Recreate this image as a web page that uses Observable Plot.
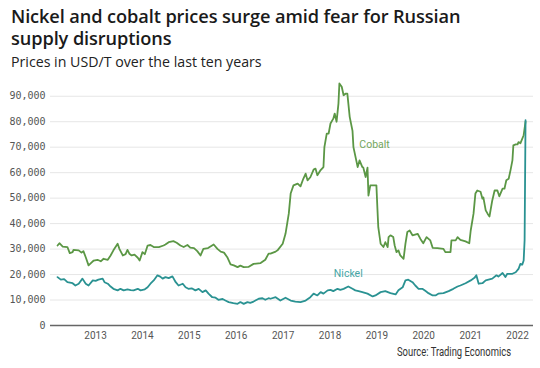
<!DOCTYPE html>
<html>
<head>
<meta charset="utf-8">
<script src="https://cdn.jsdelivr.net/npm/d3@7"></script>
<script src="https://cdn.jsdelivr.net/npm/@observablehq/plot@0.6"></script>
<style>
  html, body { margin: 0; padding: 0; background: #fff; }
  body { width: 540px; height: 368px; position: relative; overflow: hidden; font-family: "Open Sans", "Noto Sans", sans-serif; }
  #title { position: absolute; left: 11px; top: 5px; width: 525px; font-size: 18.2px; font-weight: 600; line-height: 22px; color: #1a1a1a; letter-spacing: -0.1px; white-space: nowrap; }
  #subtitle { position: absolute; left: 11px; top: 52px; font-size: 14.2px; font-weight: 400; color: #222; }
  #chart { position: absolute; left: 0; top: 75px; }
  #source { position: absolute; left: 397px; top: 345px; font-family: Roboto, sans-serif; font-size: 12px; color: #333; white-space: nowrap; transform-origin: 0 50%; display: inline-block; }
</style>
</head>
<body>
<div id="title">Nickel and cobalt prices surge amid fear for Russian<br>supply disruptions</div>
<div id="subtitle">Prices in USD/T over the last ten years</div>
<div id="chart"></div>
<div id="source">Source: Trading Economics</div>
<script>
// Dates as decimal years, prices in USD/T
const cobaltYears = [2012.19,2012.23,2012.30,2012.40,2012.45,2012.51,2012.53,2012.64,2012.70,2012.74,2012.79,2012.85,2012.90,2012.96,
  2013.04,2013.11,2013.17,2013.26,2013.32,2013.38,2013.47,2013.51,2013.58,2013.64,2013.68,2013.72,2013.77,2013.83,2013.90,2013.94,
  2014.00,2014.05,2014.11,2014.17,2014.24,2014.35,2014.45,2014.49,2014.56,2014.66,2014.73,2014.81,2014.88,2014.96,
  2015.02,2015.10,2015.17,2015.24,2015.30,2015.40,2015.52,2015.60,2015.67,2015.74,2015.81,2015.88,2015.95,
  2016.03,2016.09,2016.16,2016.26,2016.37,2016.52,2016.62,2016.69,2016.73,2016.84,2016.88,2016.99,
  2017.05,2017.12,2017.16,2017.22,2017.31,2017.37,2017.43,2017.48,2017.52,2017.58,2017.65,2017.69,2017.73,2017.80,2017.86,2017.88,2017.93,2017.97,
  2018.01,2018.07,2018.10,2018.14,2018.18,2018.20,2018.25,2018.29,2018.33,2018.37,2018.42,2018.48,2018.50,2018.56,2018.59,2018.63,2018.69,2018.71,2018.76,2018.80,2018.82,2018.86,2018.99,
  2019.01,2019.03,2019.08,2019.14,2019.18,2019.23,2019.25,2019.29,2019.35,2019.38,2019.42,2019.46,2019.50,2019.57,2019.61,2019.65,2019.70,2019.76,2019.87,2019.93,2019.99,
  2020.06,2020.14,2020.19,2020.29,2020.42,2020.46,2020.57,2020.59,2020.68,2020.72,2020.78,2020.89,2020.97,
  2021.00,2021.06,2021.10,2021.14,2021.21,2021.25,2021.27,2021.32,2021.36,2021.40,2021.46,2021.51,2021.57,2021.61,2021.68,2021.72,2021.76,2021.81,2021.85,2021.89,2021.91,2021.96,
  2022.00,2022.02,2022.06,2022.13,2022.17];
const cobaltPrices = [31400,32300,31000,30800,28400,28800,29700,29500,28600,29200,26800,23600,24500,25500,
  25800,25200,26200,25800,27500,29500,32100,30000,27500,28000,29700,28200,27500,27800,26600,25500,
  28800,28000,31400,31600,30800,30800,31400,31800,32700,33100,32500,31400,30800,31600,
  30600,30400,29200,27500,30100,30400,31800,30100,29000,28600,26800,24000,23600,
  22900,23500,22900,23000,24200,24500,25800,28200,28200,29000,29500,32100,
  36000,43900,51800,55000,55700,54600,57600,59600,57000,58200,61200,61600,59000,61000,62200,70000,75300,75300,
  79300,81200,83200,80000,87100,95000,93700,90400,91000,91000,81900,76400,70000,64800,62200,64800,62200,62000,58300,62000,51000,55000,55000,
  46500,38600,32100,30800,32700,30800,34700,35400,34700,31400,28800,29500,27500,26200,32100,36700,37300,35400,36000,34000,32300,
  34700,33400,30500,30400,30100,28800,28800,33400,33400,34700,33600,33000,32300,
  37300,43900,51800,53000,52500,49800,50300,45200,43900,42800,49100,53000,53000,50700,53700,53700,57000,57600,61000,64800,70700,71100,
  71100,72000,71500,74700,80000];

const nickelYears = [2012.19,2012.26,2012.33,2012.40,2012.51,2012.57,2012.64,2012.72,2012.79,2012.85,2012.94,
  2013.00,2013.06,2013.15,2013.19,2013.26,2013.32,2013.38,2013.47,2013.53,2013.60,2013.68,2013.75,2013.81,2013.90,2013.96,
  2014.05,2014.11,2014.17,2014.24,2014.32,2014.38,2014.43,2014.49,2014.56,2014.64,2014.71,2014.77,2014.86,2014.92,2014.98,
  2015.05,2015.13,2015.20,2015.28,2015.35,2015.41,2015.49,2015.56,2015.62,2015.71,2015.77,2015.84,2015.94,
  2016.03,2016.09,2016.16,2016.24,2016.30,2016.37,2016.48,2016.56,2016.62,2016.69,2016.73,2016.84,2016.94,
  2017.05,2017.16,2017.26,2017.37,2017.48,2017.58,2017.65,2017.73,2017.80,2017.86,2017.95,
  2018.01,2018.07,2018.16,2018.22,2018.29,2018.39,2018.48,2018.54,2018.61,2018.69,2018.80,2018.91,2018.97,
  2019.08,2019.18,2019.29,2019.40,2019.46,2019.55,2019.61,2019.67,2019.76,2019.82,2019.89,2019.97,
  2020.04,2020.10,2020.19,2020.25,2020.31,2020.42,2020.53,2020.63,2020.72,2020.78,2020.89,
  2021.00,2021.08,2021.12,2021.17,2021.25,2021.32,2021.38,2021.46,2021.55,2021.59,2021.68,2021.74,2021.78,2021.89,2021.96,
  2022.02,2022.06,2022.10,2022.13,2022.15,2022.17];
const nickelPrices = [19000,18000,18200,17000,16600,15700,16400,18400,16400,15700,17700,
  17500,18000,18400,17000,16400,15300,14400,13800,14400,13800,14200,13900,13800,14400,13800,
  14200,15000,16400,17700,19700,19200,18400,19000,18600,19300,17000,15700,16400,15000,14400,
  14600,13800,14400,13100,13800,12500,11100,10900,10100,10400,9800,9200,8800,
  8500,9200,8500,9200,8900,9400,10500,10700,10100,10700,10500,11100,9800,
  10900,9800,9400,9200,9800,11100,12500,11800,13100,12500,13800,
  14000,13500,14400,14000,14400,15300,14400,13800,13500,13100,12500,11400,11800,
  13100,13500,12700,12200,13800,15000,17700,18000,17000,15700,14400,14400,
  13500,12700,11800,11800,12500,12700,13500,14400,15300,15700,16600,
  17700,18700,19700,16400,16600,17700,18000,18400,19700,19200,20600,19000,20300,20300,20900,
  22200,24200,23900,25500,33400,80600];

const labelNames = ["Cobalt", "Nickel"];
const labelYears = [2018.95, 2018.39];
const labelPrices = [71000, 20400];
const colors = {Cobalt: "#5b9745", Nickel: "#2a9292"};
const labelColors = {Cobalt: "#73a65c", Nickel: "#46a6a6"};

const yTicks = [0,10000,20000,30000,40000,50000,60000,70000,80000,90000];
const xTickYears = [2013,2014,2015,2016,2017,2018,2019,2020,2021,2022];

function toDate(y) {
  const yr = Math.floor(y);
  const start = Date.UTC(yr, 0, 1), end = Date.UTC(yr + 1, 0, 1);
  return new Date(start + (y - yr) * (end - start));
}

const cobalt = cobaltYears.map((y, i) => ({date: toDate(y), price: cobaltPrices[i], metal: "Cobalt"}));
const nickel = nickelYears.map((y, i) => ({date: toDate(y), price: nickelPrices[i], metal: "Nickel"}));
const labels = labelNames.map((n, i) => ({date: toDate(labelYears[i]), price: labelPrices[i], name: n}));

const chart = Plot.plot({
  width: 540,
  height: 270,
  marginLeft: 50,
  marginRight: 7,
  marginTop: 8,
  marginBottom: 20,
  style: {fontFamily: "'DejaVu Sans Mono', monospace", fontSize: "10px", color: "#555", background: "white"},
  x: {
    type: "utc",
    domain: [toDate(2012.04), toDate(2022.34)],
    ticks: xTickYears.map(y => toDate(y)),
    tickFormat: d3.utcFormat("%Y"),
    tickSize: 0,
    tickPadding: 6,
    label: null
  },
  y: {
    domain: [0, 95000],
    ticks: yTicks,
    tickFormat: d3.format(","),
    tickSize: 0,
    tickPadding: 5,
    label: null
  },
  marks: [
    Plot.gridY(yTicks, {stroke: "#e6e6e6", strokeOpacity: 1}),
    Plot.ruleY([0], {stroke: "#666", strokeWidth: 1.5}),
    Plot.lineY(cobalt, {x: "date", y: "price", stroke: colors.Cobalt, strokeWidth: 1.8}),
    Plot.lineY(nickel, {x: "date", y: "price", stroke: colors.Nickel, strokeWidth: 1.8}),
    Plot.text(labels, {x: "date", y: "price", text: "name", fill: d => labelColors[d.name], fontSize: 10.5, fontFamily: "Roboto, sans-serif"})
  ]
});
document.getElementById("chart").appendChild(chart);

// x tick labels in a narrower sans face like the reference
d3.select(chart).selectAll("g[aria-label='x-axis tick label'] text, g[aria-label='x-axis tick label']")
  .attr("font-family", "Roboto, sans-serif").attr("font-size", 10);

// condense the source line to the reference's width
const src = document.getElementById("source");
const w = src.getBoundingClientRect().width;
src.style.transform = `scaleX(${114 / w})`;
</script>
</body>
</html>
